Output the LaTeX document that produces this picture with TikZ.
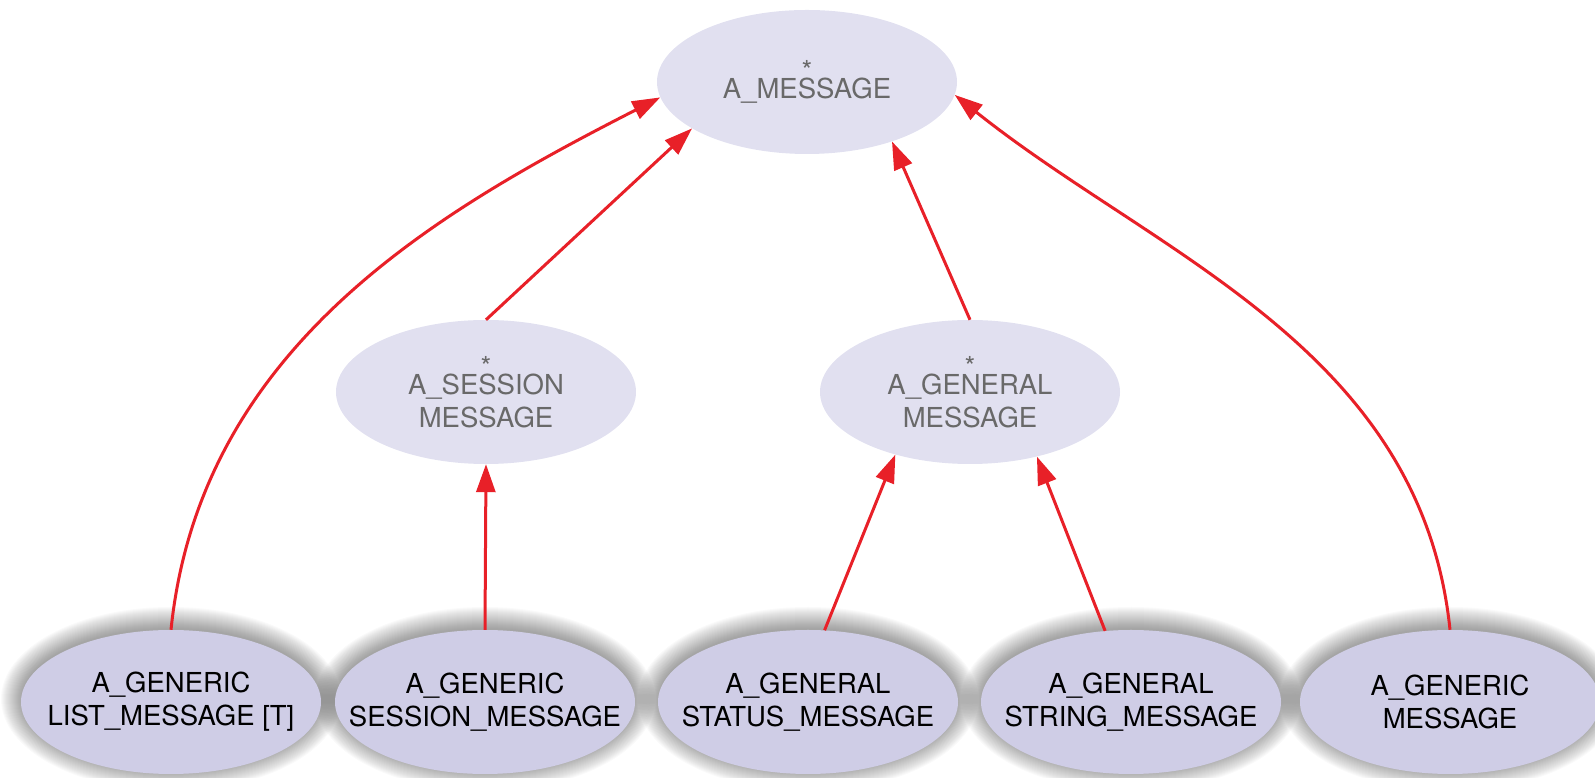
\documentclass[tikz,border=0pt]{standalone}
\usepackage{fontspec}
\setmainfont{TeX Gyre Heros}
\usetikzlibrary{calc,shapes.geometric,arrows.meta}
\definecolor{topfill}{RGB}{225,224,240}
\definecolor{leaffill}{RGB}{207,205,230}
\definecolor{linkred}{RGB}{232,32,40}
\definecolor{toptext}{RGB}{105,105,105}
\def\softshadow(#1){\foreach \r in {1,...,22}{\fill[black,opacity=0.018] ($(#1)+(0,3)$) ellipse ({148+\r} and {70+\r});}}
\tikzset{
  msgnode/.style={ellipse, minimum width=300pt, minimum height=144pt, inner xsep=-40pt, inner ysep=0pt,
    align=center, font=\fontsize{27.5}{33}\selectfont},
  deferred/.style={msgnode, fill=topfill, text=toptext},
  effective/.style={msgnode, fill=leaffill, text=black},
  inherit/.style={draw=linkred, line width=3pt, -{Triangle[length=28pt,width=19pt]}}
}

\begin{document}
\begin{tikzpicture}[x=1pt,y=1pt]
			%%%%% START %%%%%
			\useasboundingbox (0, 0) rectangle (1595, 778);
			
			% shadows under the effective classes
			\softshadow(171, 76)
			\softshadow(485, 76)
			\softshadow(808, 76)
			\softshadow(1131, 76)
			\softshadow(1450, 76)
			
			\node[deferred] (message) at (807, 696) {*\\[-15pt]A\_MESSAGE};
			\node[deferred] (session) at (486, 386) {*\\[-15pt]A\_SESSION\\MESSAGE};
			\node[deferred] (general) at (970, 386) {*\\[-15pt]A\_GENERAL\\MESSAGE};
			
			\node[effective] (list) at (171, 76) {A\_GENERIC\\LIST\_MESSAGE [T]};
			\node[effective] (gsession) at (485, 76) {A\_GENERIC\\SESSION\_MESSAGE};
			\node[effective] (status) at (808, 76) {A\_GENERAL\\STATUS\_MESSAGE};
			\node[effective] (string) at (1131, 76) {A\_GENERAL\\STRING\_MESSAGE};
			\node[effective] (generic) at (1450, 76) {A\_GENERIC\\MESSAGE};
			
			\draw[inherit] (list.north) .. controls +(29, 282) and +(-225, -115) .. (message.186);
			\draw[inherit] (session.north) -- (message.202);
			\draw[inherit] (general.north) -- (message.325);
			\draw[inherit] (generic.north) .. controls +(-29, 282) and +(200, -160) .. (message.355);
			
			\draw[inherit] (gsession.north) -- (session.south);
			\draw[inherit] (status.77) -- (general.220);
			\draw[inherit] (string.110) -- (general.316);
			%%%%% END %%%%%
\end{tikzpicture}
\end{document}
